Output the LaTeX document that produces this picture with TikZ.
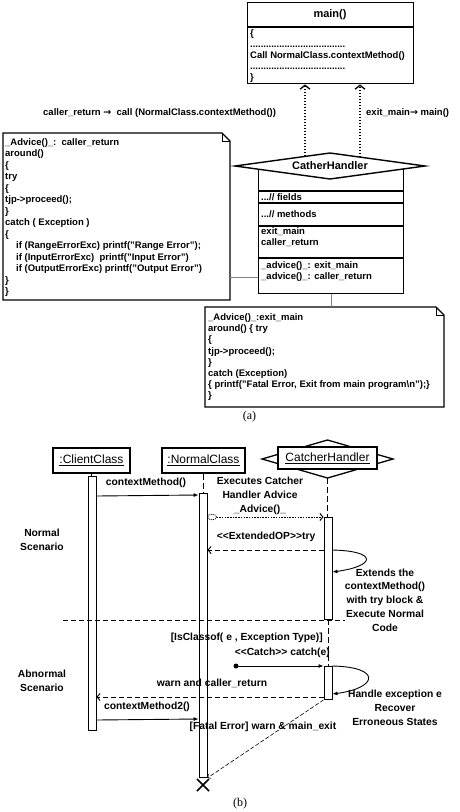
\documentclass[tikz,border=0pt]{standalone}
\usepackage{fontspec}
\setmainfont{Liberation Sans}
\newfontfamily\serifab{Liberation Serif}
\newfontfamily\arrfont{DejaVu Sans}
\usetikzlibrary{arrows.meta,calc}
\begin{document}
\begin{tikzpicture}[x=1pt,y=-1pt,
  box/.style={draw, line width=1.4pt},
  code/.style={font=\bfseries\fontsize{9.5}{11.4}\selectfont, inner sep=0pt, align=left, anchor=north west},
  codeb/.style={font=\bfseries\fontsize{9.5}{11}\selectfont, inner sep=0pt, align=left, anchor=north west},
  lbl/.style={font=\bfseries\fontsize{10.3}{13.7}\selectfont, inner sep=0pt, align=center},
  ttl/.style={draw, line width=1.3pt, fill=white, inner sep=0pt, font=\fontsize{12}{14}\selectfont},
  bar/.style={draw, fill=white, line width=0.9pt, minimum width=8pt, inner sep=0pt, anchor=north},
  life/.style={line width=1pt, dash pattern=on 6pt off 3pt},
  msg/.style={line width=0.9pt, -{Latex[length=5pt,width=4pt]}},
  ret/.style={line width=0.9pt, dash pattern=on 5pt off 3pt, -{Straight Barb[length=3pt,width=7pt]}},
  dotarr/.style={line width=1.3pt, dash pattern=on 1.5pt off 1.5pt, -{Straight Barb[length=4pt,width=10pt]}},
  conn/.style={draw=gray, line width=0.7pt}
]
\useasboundingbox (0,0) rectangle (460,812);

% ---------------- (a) ----------------
\node[box, minimum width=166pt, minimum height=81pt, anchor=north west, inner sep=0pt] (mainbox) at (247,2) {};
\draw[box] (mainbox.west |- 0,27) -- (mainbox.east |- 0,27);
\node[font=\bfseries\fontsize{11}{13}\selectfont, inner sep=0pt] (maintitle) at (330,15) {main()};
\node[codeb] (maintext) at (250,29.4) {\{\\....................................\\Call NormalClass.contextMethod()\\....................................\\\}};

% CatherHandler class
\node[box, minimum width=145pt, minimum height=127pt, anchor=north west, inner sep=0pt] (chbody) at (258,166) {};
\coordinate (hL) at (235,166);
\coordinate (hT) at (330,153);
\coordinate (hR) at (425,166);
\coordinate (hB) at (330,179);
\draw[box, fill=white] (hL) -- (hT) -- (hR) -- (hB) -- cycle;
\node[font=\bfseries\fontsize{11}{13}\selectfont, inner sep=0pt] (chtitle) at (330,165.5) {CatherHandler};
\draw[box] (chbody.west |- 0,191) -- (chbody.east |- 0,191);
\draw[box] (chbody.west |- 0,203) -- (chbody.east |- 0,203);
\draw[box] (chbody.west |- 0,226) -- (chbody.east |- 0,226);
\draw[line width=2pt] (chbody.west |- 0,258) -- (chbody.east |- 0,258);
\node[codeb] (chf) at (261,193.4) {...// fields};
\node[codeb] (chm) at (261,210.4) {...// methods};
\node[codeb] (cha) at (261,227.4) {exit\_main\\caller\_return};
\node[codeb] (chadv) at (261,261.4) {\_advice()\_: exit\_main\\\_advice()\_: caller\_return};

% dotted arrows to main
\coordinate (d1s) at (305,156.4);
\coordinate (d2s) at (360,157.1);
\draw[dotarr] (d1s) -- (mainbox.south -| d1s);
\draw[dotarr] (d2s) -- (mainbox.south -| d2s);
\node[codeb, anchor=west] (lblcall) at (43,113) {caller\_return {\arrfont\bfseries →}\ \ call (NormalClass.contextMethod())};
\node[codeb, anchor=west] (lblexit) at (366,113) {exit\_main{\arrfont\bfseries →} main()};

% left note
\coordinate (n1a) at (3,133);
\coordinate (n1b) at (222,133);
\coordinate (n1c) at (230,141);
\coordinate (n1d) at (230,300);
\coordinate (n1e) at (3,300);
\draw[box, line join=miter] (n1a) -- (n1b) -- (n1c) -- (n1d) -- (n1e) -- cycle;
\draw[line width=1pt] (n1b) -- (222,141) -- (n1c);
\node[code, font=\bfseries\fontsize{9.5}{11.46}\selectfont] (n1text) at (5,138.4) {\_Advice()\_:\ \ caller\_return\\around()\\\{\\try\\\{\\tjp->proceed();\\\}\\catch ( Exception )\\\{\\\hspace*{11pt}if (RangeErrorExc) printf("Range Error");\\\hspace*{11pt}if (InputErrorExc)\ \ printf("Input Error")\\\hspace*{11pt}if (OutputErrorExc) printf("Output Error")\\\}\\\}};
\draw[conn] (n1d |- 0,277) -- (chbody.west |- 0,277);

% bottom note
\coordinate (n2a) at (205,307);
\coordinate (n2b) at (436,307);
\coordinate (n2c) at (444,315);
\coordinate (n2d) at (444,407);
\coordinate (n2e) at (205,407);
\draw[box, line join=miter] (n2a) -- (n2b) -- (n2c) -- (n2d) -- (n2e) -- cycle;
\draw[line width=1pt] (n2b) -- (436,315) -- (n2c);
\node[code, font=\bfseries\fontsize{9.5}{11.2}\selectfont] (n2text) at (208,313.4) {\_Advice()\_:exit\_main\\around() \{ try\\\{\\tjp->proceed();\\\}\\catch (Exception)\\\{ printf("Fatal Error, Exit from main program\textbackslash n");\}\\\}};
\draw[conn] (chbody.south) -- (chbody.south |- n2a);

\node[font=\serifab\fontsize{12}{14}\selectfont, inner sep=0pt] (capa) at (249.5,417) {(a)};

% ---------------- (b) ----------------
\node[ttl, minimum width=77pt, minimum height=25pt] (cc) at (91.5,460.5) {\underline{:ClientClass}};
\node[ttl, minimum width=83pt, minimum height=25pt] (nc) at (203.5,460.5) {\underline{:NormalClass}};
\coordinate (gL) at (262,459);
\coordinate (gT) at (327.5,440);
\coordinate (gR) at (393,459);
\coordinate (gB) at (327.5,478);
\draw[line width=1.3pt, fill=white] (gL) -- (gT) -- (gR) -- (gB) -- cycle;
\node[ttl, minimum width=99pt, minimum height=22pt] (ch) at (327.5,458) {\underline{CatcherHandler}};

\coordinate (ba0) at (92,476);
\coordinate (bb0) at (203,493);
\coordinate (bc0) at (328,517);
\coordinate (bd0) at (328,666);
\draw[life] (cc.south) -- (cc.south |- ba0);
\draw[life] (nc.south) -- (nc.south |- bb0);
\draw[life] (gB) -- (gB |- bc0);
\draw[life] (bc0 |- 0,619) -- (bd0);

\node[bar, minimum height=254pt] (ba) at (ba0) {};
\node[bar, minimum height=284pt] (bb) at (bb0) {};
\node[bar, minimum height=102pt] (bc1) at (bc0) {};
\node[bar, minimum height=33pt] (bc2) at (bd0) {};

% messages
\draw[msg] (ba.east |- 0,496) -- (bb.west |- 0,495);
\node[lbl] (lcm) at (146,483) {contextMethod()};

\node[lbl] (lexe) at (260,496) {Executes Catcher\\Handler Advice\\\_Advice()\_};
\coordinate (ell) at (212,517);
\draw[line width=0.8pt, dash pattern=on 1pt off 1pt] (ell) ellipse [x radius=4.5pt, y radius=2.8pt];
\draw[line width=1pt, dash pattern=on 1.5pt off 1.2pt, -{Straight Barb[length=3pt,width=7pt]}] ($(ell)+(4.5,0)$) -- (bc1.west |- 0,517);

\node[lbl] (lext) at (266,537) {<{}<ExtendedOP>{}>try};
\draw[ret] (bc1.west |- 0,550) -- (bb.east |- 0,550);
\draw[msg] (bc1.east |- 0,550) .. controls (378,551) and (376,566) .. (bc1.east |- 0,572);
\node[lbl] (lextends) at (385,600) {Extends the\\contextMethod()\\with try block \&\\Execute Normal\\Code};

\coordinate (sepL) at (63,620);
\coordinate (sepR) at (345,620);
\draw[line width=1pt, dash pattern=on 5pt off 3pt] (sepL) -- (sepR);
\node[lbl] (lnorm) at (42,540) {Normal\\Scenario};
\node[lbl] (labn) at (42,681) {Abnormal\\Scenario};

\node[lbl, anchor=east] (lisc) at (323,638) {[IsClassof( e , Exception Type)]};
\node[lbl, anchor=east] (lcatch) at (330,653) {<{}<Catch>{}> catch(e)};
\coordinate (dot) at (236,666);
\fill (dot) circle (2.5pt);
\draw[msg] (dot) -- (bc2.west |- dot);
\draw[msg] (bc2.east |- 0,666) .. controls (382,667) and (378,688) .. (bc2.east |- 0,694);
\node[lbl] (lhandle) at (395,708) {Handle exception e\\Recover\\Erroneous States};

\node[lbl] (lwarn) at (212,683) {warn and caller\_return};
\draw[ret] (bc2.west |- 0,697) -- (ba.east |- 0,697);
\node[lbl] (lcm2) at (147,707) {contextMethod2()};
\draw[msg] (ba.east |- 0,720) -- (bb.west |- 0,719);
\node[lbl] (lfatal) at (263,727) {[Fatal Error] warn \& main\_exit};
\draw[line width=0.6pt, dash pattern=on 4pt off 2pt, -{Straight Barb[length=2.5pt,width=5pt]}] (bc2.south west) -- (bb.south east);

\coordinate (xc) at (203,785);
\draw[line width=1.5pt] ($(xc)+(-6,-6)$) -- ($(xc)+(6,6)$) ($(xc)+(-6,6)$) -- ($(xc)+(6,-6)$);

\node[font=\serifab\fontsize{12}{14}\selectfont, inner sep=0pt] (capb) at (240,804) {(b)};
\end{tikzpicture}
\end{document}
